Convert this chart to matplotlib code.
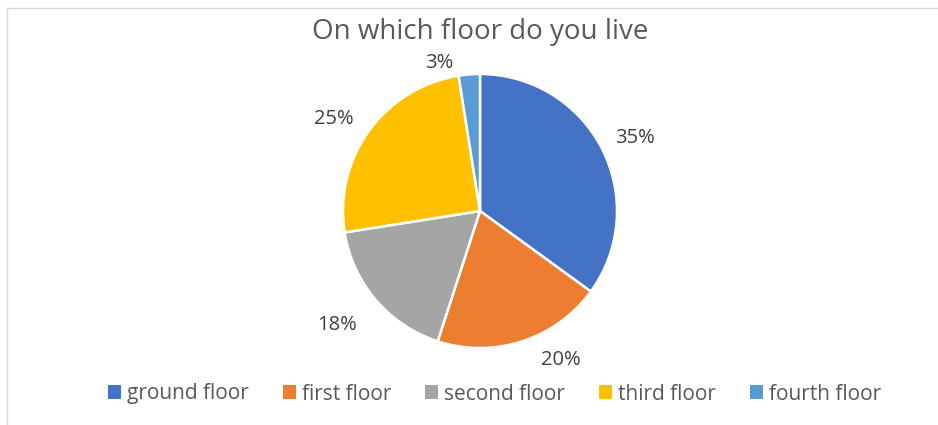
#!/usr/bin/env python3
"""
Pie chart of survey answers: on which floor do you live.
"""

import numpy as np
import matplotlib.pyplot as plt
from matplotlib.patches import Patch
from matplotlib.lines import Line2D

# Survey answers (number of respondents per floor)
floors = ['ground floor', 'first floor', 'second floor', 'third floor', 'fourth floor']
counts = [14, 8, 7, 10, 1]
colors = ['#4472C4', '#ED7D31', '#A5A5A5', '#FFC000', '#5B9BD5']

# Label placement tweaks (radius multiple, angle shift in degrees)
label_dist = [1.26, 1.22, 1.32, 1.27, 1.14]
label_shift = [-1, 11, -2.5, 3, 10.5]

W, H, DPI = 938, 425, 100
cx, cy, r_px = 480, 211, 137  # pie centre and radius in pixels

plt.rcParams['font.family'] = ['Open Sans', 'DejaVu Sans']

fig = plt.figure(figsize=(W / DPI, H / DPI), dpi=DPI)
ax = fig.add_axes([0, 0, 1, 1])

wedges, _ = ax.pie(counts, colors=colors, startangle=90, counterclock=False,
                   wedgeprops=dict(edgecolor='white', linewidth=1.8))
ax.set_xlim(-cx / r_px, (W - cx) / r_px)
ax.set_ylim(-(H - cy) / r_px, cy / r_px)
ax.set_aspect('auto')
ax.axis('off')

total = sum(counts)
for w, n, d, shift in zip(wedges, counts, label_dist, label_shift):
    pct = int(100.0 * n / total + 0.5)
    ang = np.deg2rad((w.theta1 + w.theta2) / 2 + shift)
    ax.annotate(f'{pct}%', xy=(d * np.cos(ang), d * np.sin(ang)), xytext=(0, -2.2),
                textcoords='offset points', ha='center', va='center',
                fontsize=14.5, color='#404040')

fig.text(cx / W, 1 - 39 / H, 'On which floor do you live', ha='center', va='baseline',
         fontsize=20, color='#595959')

handles = [Patch(facecolor=c, edgecolor='none') for c in colors]
fig.legend(handles, floors, loc='center', bbox_to_anchor=(494.5 / W, 1 - 394 / H), ncol=5,
           frameon=False, fontsize=15, handlelength=0.62, handleheight=0.62,
           handletextpad=0.29, columnspacing=1.64, borderpad=0, labelcolor='#595959')

# light chart border along the top and left
fig.add_artist(Line2D([7 / W, 7 / W], [0, 1 - 8 / H], color='#D9D9D9', lw=1))
fig.add_artist(Line2D([7 / W, 1], [1 - 8 / H, 1 - 8 / H], color='#D9D9D9', lw=1))

fig.savefig('out.png', dpi=DPI)
